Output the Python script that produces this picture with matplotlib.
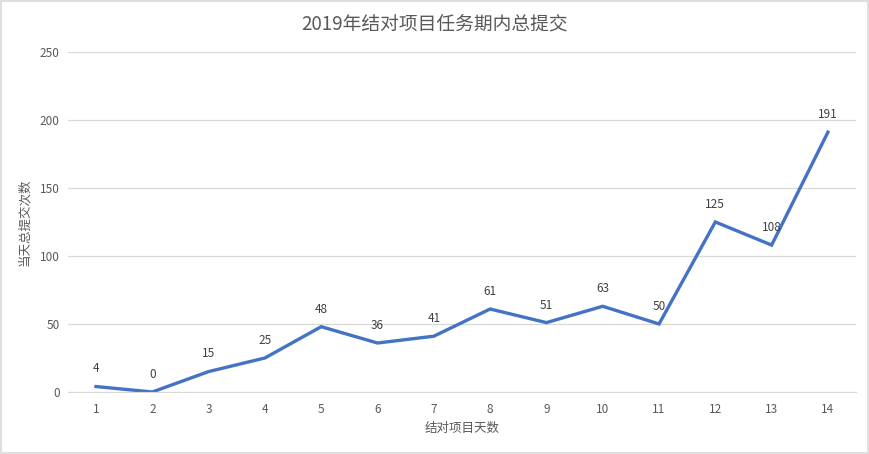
import matplotlib.pyplot as plt
from matplotlib.patches import Rectangle

plt.rcParams['font.family'] = ['Noto Sans CJK SC', 'DejaVu Sans']

# datos
dias = list(range(1, 15))
commits = [4, 0, 15, 25, 48, 36, 41, 61, 51, 63, 50, 125, 108, 191]
titulo = "2019年结对项目任务期内总提交"
etiqueta_x = "结对项目天数"
etiqueta_y = "当天总提交次数"

fig = plt.figure(figsize=(8.7, 4.54), dpi=100)
ax = fig.add_axes([0.078, 0.1366, 0.906, 0.749])

ax.plot(dias, commits, color='#4472C4', linewidth=2.4, solid_joinstyle='miter')

# etiquetas de datos
for d, c in zip(dias, commits):
    ax.annotate(str(c), (d, c), xytext=(0, 8), textcoords='offset points',
                ha='center', va='bottom', fontsize=8.5, color='#404040')

ax.set_xlim(0.5, 14.5)
ax.set_ylim(0, 250)
ax.set_xticks(dias)
ax.set_yticks(range(0, 251, 50))
ax.yaxis.grid(True, color='#D9D9D9', linewidth=0.9)
ax.set_axisbelow(True)
for lado in ['top', 'right', 'left']:
    ax.spines[lado].set_visible(False)
ax.spines['bottom'].set_color('#D9D9D9')
ax.tick_params(axis='both', length=0, labelsize=8.5, labelcolor='#595959', pad=8)
ax.tick_params(axis='y', pad=6)

ax.set_xlabel(etiqueta_x, fontsize=9, color='#595959', labelpad=4)
ax.set_ylabel(etiqueta_y, fontsize=9, color='#595959')
ax.yaxis.set_label_coords(-0.047, 0.5)
fig.text(0.5, 0.948, titulo, ha='center', va='center', fontsize=13.5, color='#595959')

# borde del gráfico
fig.patches.append(Rectangle((0.001, 0.002), 0.997, 0.995, transform=fig.transFigure,
                             fill=False, edgecolor='#D9D9D9', linewidth=1.2))

fig.savefig('out.png', dpi=100)
